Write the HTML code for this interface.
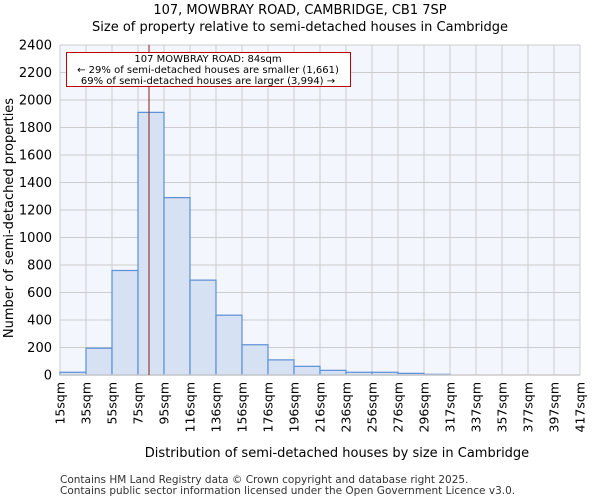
<!DOCTYPE html>
<html><head><meta charset="utf-8"><style>
body{margin:0;background:#fff;font-family:"DejaVu Sans","Liberation Sans",sans-serif;}
</style></head><body>
<svg width="600" height="500" xmlns="http://www.w3.org/2000/svg" font-family="DejaVu Sans, Liberation Sans, sans-serif">
<text x="300" y="14" font-size="13" text-anchor="middle">107, MOWBRAY ROAD, CAMBRIDGE, CB1 7SP</text>
<text x="300" y="31" font-size="13" text-anchor="middle">Size of property relative to semi-detached houses in Cambridge</text>
<rect x="60" y="45" width="520" height="330" fill="#f3f6fd"/>
<g id="grid"></g><g id="bars"></g><g id="axes"></g>
<line x1="149" y1="45" x2="149" y2="375" stroke="#8b1a1a" stroke-width="1"/>
<rect x="66.5" y="52.5" width="284" height="34" fill="#fff" stroke="#c00000"/>
<text x="208" y="62" font-size="10" text-anchor="middle">107 MOWBRAY ROAD: 84sqm</text>
<text x="208" y="73" font-size="10" text-anchor="middle">← 29% of semi-detached houses are smaller (1,661)</text>
<text x="208" y="84" font-size="10" text-anchor="middle">69% of semi-detached houses are larger (3,994) →</text>
<text x="337" y="457" font-size="13" text-anchor="middle">Distribution of semi-detached houses by size in Cambridge</text>
<text transform="translate(13,218) rotate(-90)" font-size="13" text-anchor="middle">Number of semi-detached properties</text>
<text x="60" y="483" font-size="10.5" fill="#333">Contains HM Land Registry data © Crown copyright and database right 2025.</text>
<text x="60" y="494" font-size="10.5" fill="#333">Contains public sector information licensed under the Open Government Licence v3.0.</text>
</svg>
<script>
const categories=["15sqm","35sqm","55sqm","75sqm","95sqm","116sqm","136sqm","156sqm","176sqm","196sqm","216sqm","236sqm","256sqm","276sqm","296sqm","317sqm","337sqm","357sqm","377sqm","397sqm","417sqm"];
const counts=[20,195,760,1910,1290,690,435,220,110,63,34,20,20,12,5,0,0,0,0,0];
const yTicks=[0,200,400,600,800,1000,1200,1400,1600,1800,2000,2200,2400];
const NS="http://www.w3.org/2000/svg";
const x0=60,x1=580,yb=375,yt=45,ymax=2400;
const xs=i=>x0+i*(x1-x0)/counts.length;
const ys=v=>yb-v*(yb-yt)/ymax;
function mk(t,a,p){const e=document.createElementNS(NS,t);for(const k in a)e.setAttribute(k,a[k]);p.appendChild(e);return e;}
const g=document.getElementById('grid'),b=document.getElementById('bars'),ax=document.getElementById('axes');
yTicks.forEach(v=>{
 const l=mk('line',{x1:x0,x2:x1,y1:ys(v),y2:ys(v),stroke:'#ccc'},g);
 
 
 const t=mk('text',{x:52,y:ys(v)+4.5,'font-size':13,'text-anchor':'end'},ax);t.textContent=v;
 
 
});
categories.forEach((c,i)=>{
 const x=xs(i);
 const l=mk('line',{x1:x,x2:x,y1:yt,y2:yb,stroke:'#ccc'},g);
 
 
 const t=mk('text',{transform:`translate(${x+4.5},382) rotate(-90)`,'font-size':12.5,'text-anchor':'end'},ax);t.textContent=c;
 
 
});
counts.forEach((v,i)=>{
 if(v<=0)return;
 const r=mk('rect',{x:xs(i),y:ys(v),width:xs(i+1)-xs(i),height:yb-ys(v),fill:'#d6e1f3',stroke:'#5b8fd6','stroke-width':1.2},b);
 
 
});
const bl=mk('line',{x1:x0,x2:x1,y1:yb,y2:yb,stroke:'#ccc','stroke-width':1.5},ax);


</script>
</body></html>
